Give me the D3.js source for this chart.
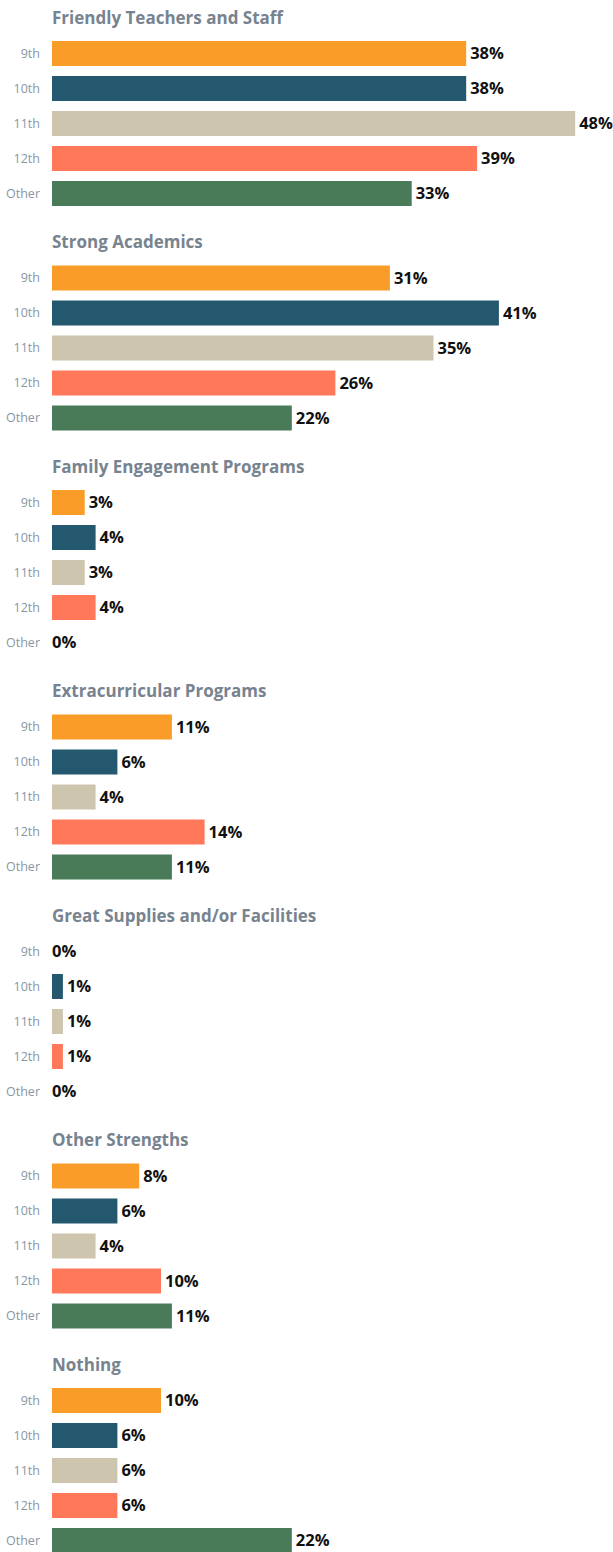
<!DOCTYPE html>
<html>
<head>
<meta charset="utf-8">
<script src="https://cdn.jsdelivr.net/npm/d3@7"></script>
<style>
  html, body { margin: 0; padding: 0; background: #fff; }
  svg { display: block; font-family: "Open Sans", sans-serif; }
</style>
</head>
<body>
<div id="chart"></div>
<script>
const categories = [
  "Friendly Teachers and Staff",
  "Strong Academics",
  "Family Engagement Programs",
  "Extracurricular Programs",
  "Great Supplies and/or Facilities",
  "Other Strengths",
  "Nothing"
];
const grades = ["9th", "10th", "11th", "12th", "Other"];
const grade9 = [38, 31, 3, 11, 0, 8, 10];
const grade10 = [38, 41, 4, 6, 1, 6, 6];
const grade11 = [48, 35, 3, 4, 1, 4, 6];
const grade12 = [39, 26, 4, 14, 1, 10, 6];
const gradeOther = [33, 22, 0, 11, 0, 11, 22];
const colors = ["#F99D28", "#24586F", "#CEC5AE", "#FF7859", "#4A7B58"];

const series = [grade9, grade10, grade11, grade12, gradeOther];
const W = 613, H = 1552;
const svg = d3.select("#chart").append("svg").attr("width", W).attr("height", H);

const blockStep = 224.5;
const yBlock = d3.scaleBand().domain(categories).range([0, blockStep * categories.length]).padding(0);
const x = d3.scaleLinear().domain([0, 48]).range([52, 575.2]);
const yInner = d3.scaleBand().domain(grades).range([41, 206]).paddingInner(10 / 35).paddingOuter(0);
const color = d3.scaleOrdinal().domain(grades).range(colors);

const blocks = svg.selectAll("g.block").data(categories).join("g")
  .attr("class", "block")
  .attr("transform", d => `translate(0,${yBlock(d)})`);

blocks.append("text")
  .attr("x", 52).attr("y", 23.5)
  .attr("fill", "#77838F")
  .attr("font-size", 17).attr("font-weight", 700)
  .text(d => d);

blocks.each(function(cat, ci) {
  const g = d3.select(this);
  const rows = grades.map((gr, gi) => ({ grade: gr, value: series[gi][ci] }));
  const axis = g.append("g").attr("transform", "translate(52,0)")
    .call(d3.axisLeft(yInner).tickSize(0).tickPadding(12));
  axis.select(".domain").remove();
  axis.selectAll("text")
    .attr("font-family", "Open Sans, sans-serif")
    .attr("font-size", 12.5).attr("fill", "#8A96A1");

  g.selectAll("rect.bar").data(rows).join("rect")
    .attr("class", "bar")
    .attr("x", x(0))
    .attr("y", d => yInner(d.grade))
    .attr("width", d => x(d.value) - x(0))
    .attr("height", yInner.bandwidth())
    .attr("fill", d => color(d.grade));

  g.selectAll("text.val").data(rows).join("text")
    .attr("class", "val")
    .attr("x", d => d.value > 0 ? x(d.value) + 4 : x(0))
    .attr("y", d => yInner(d.grade) + yInner.bandwidth() / 2)
    .attr("dy", "0.36em")
    .attr("font-size", 16.5).attr("font-weight", 700)
    .attr("fill", "#111")
    .text(d => d.value + "%");
});
</script>
</body>
</html>
